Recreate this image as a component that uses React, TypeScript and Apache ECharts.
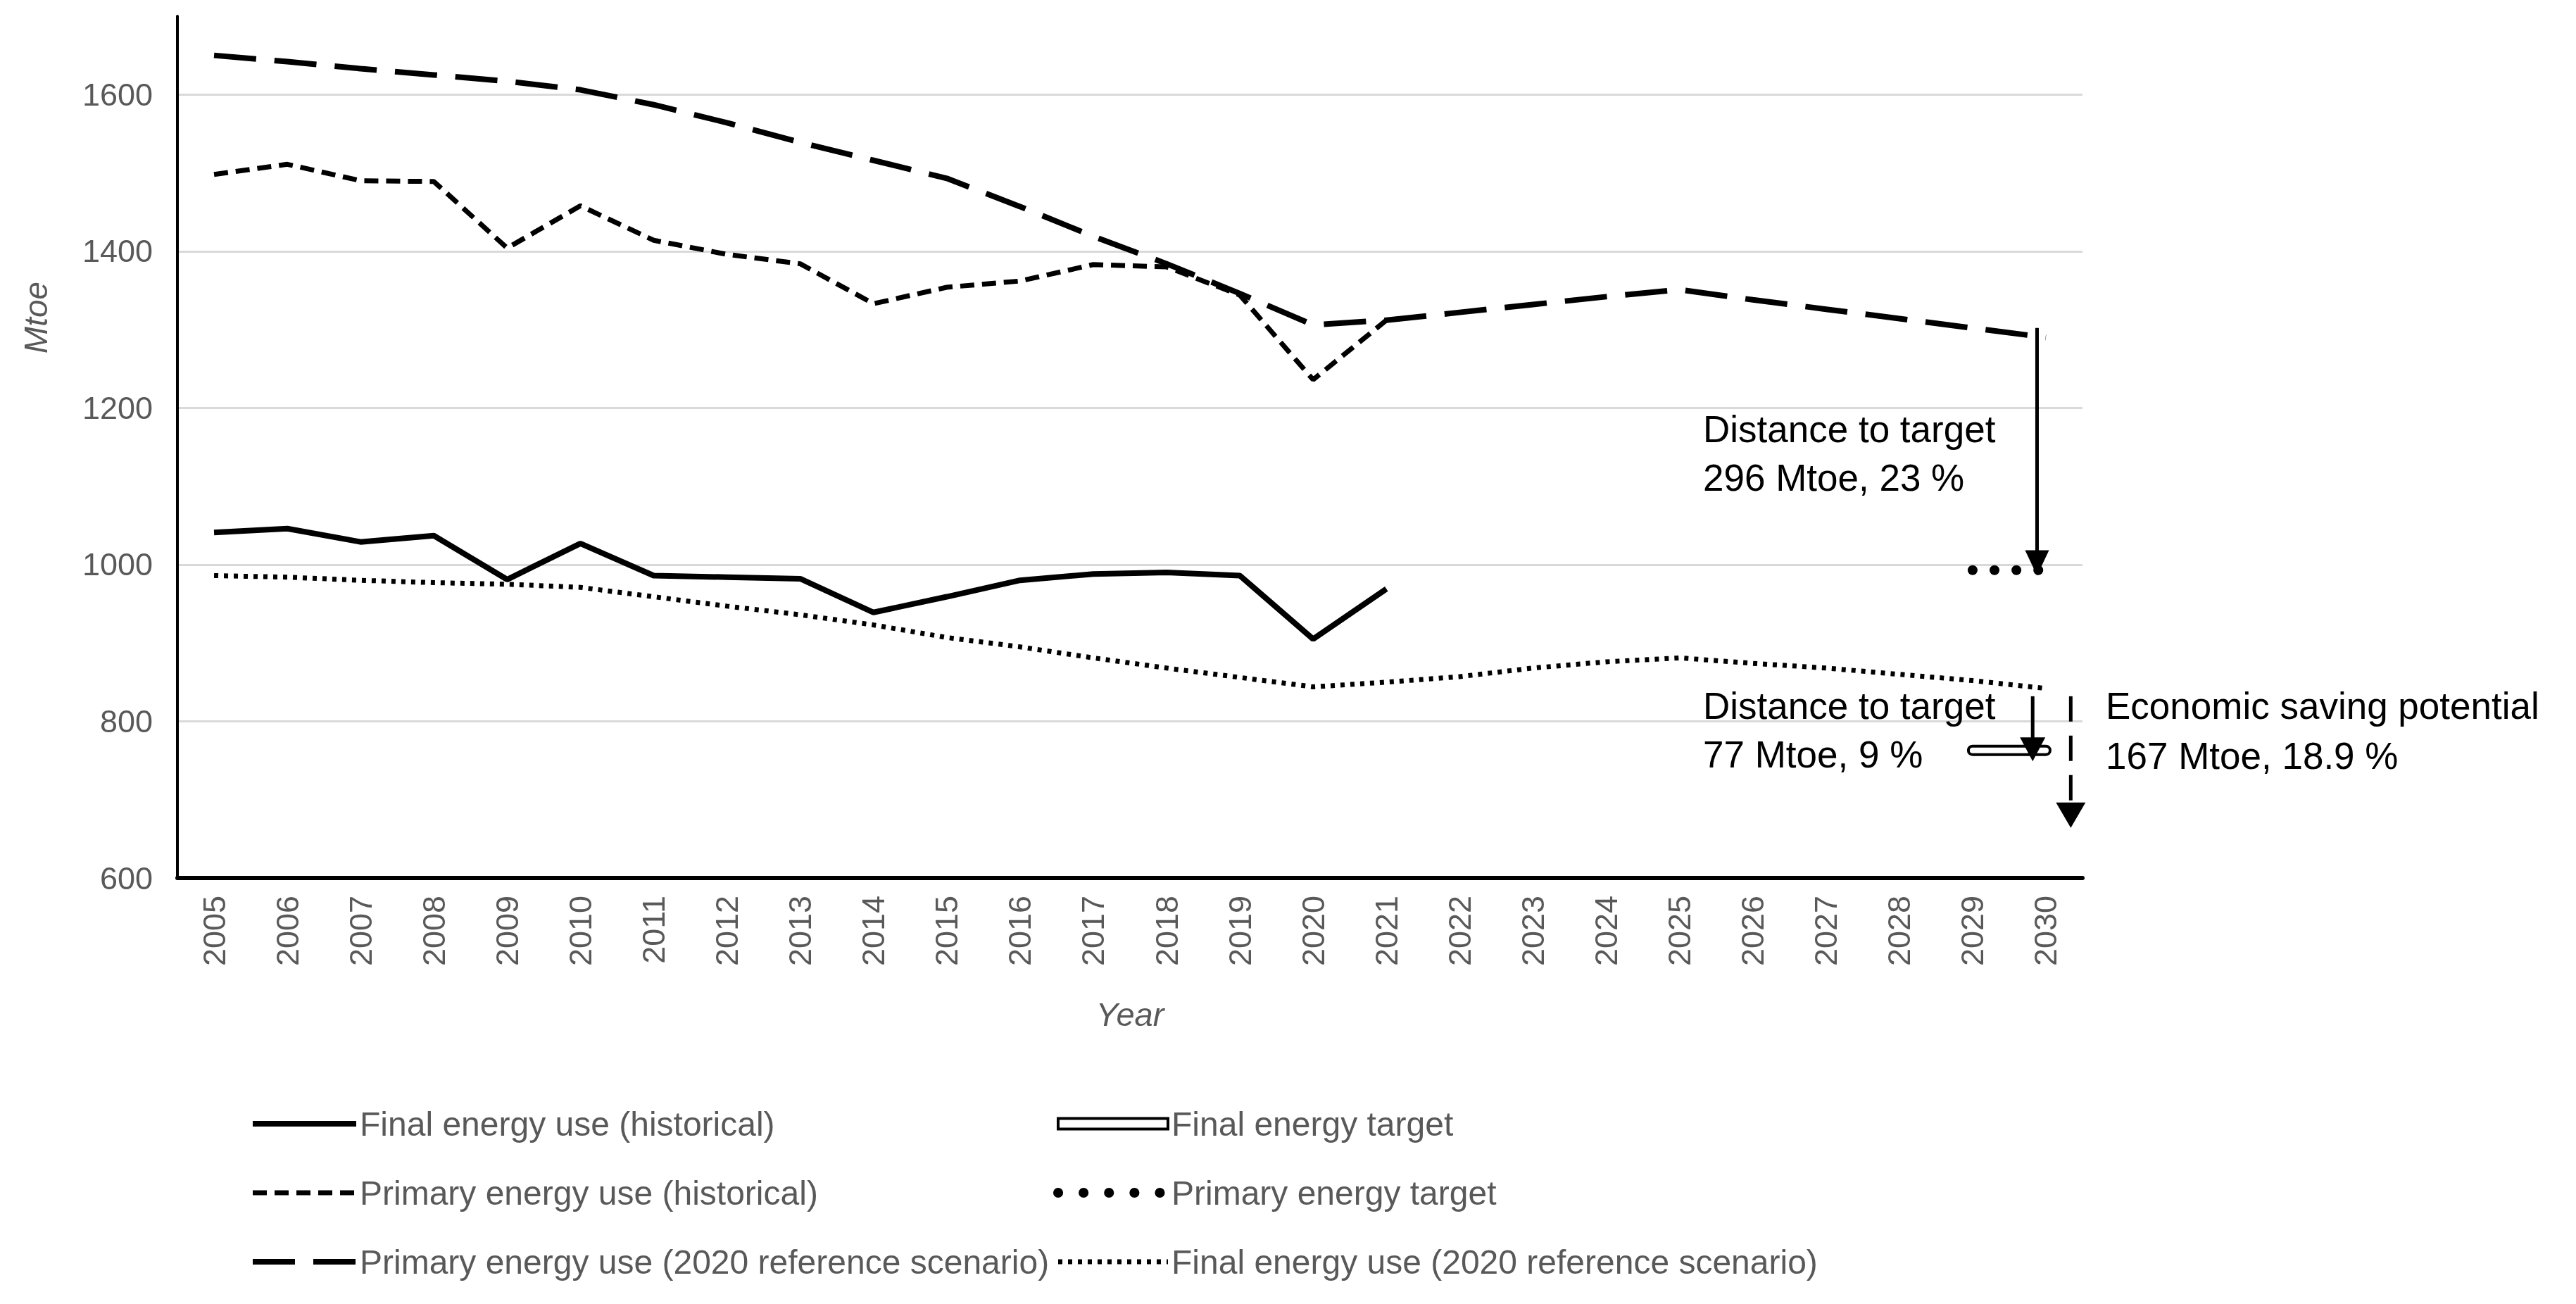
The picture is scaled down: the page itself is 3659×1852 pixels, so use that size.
import React, { useEffect, useRef } from 'react';
import * as echarts from 'echarts';

const years = ['2005','2006','2007','2008','2009','2010','2011','2012','2013','2014','2015','2016','2017','2018','2019','2020','2021','2022','2023','2024','2025','2026','2027','2028','2029','2030'];

const finalHistorical = [1041, 1046, 1029, 1037, 981, 1027, 986, 984, 982, 939, 959, 980, 988, 990, 986, 905, 969, null, null, null, null, null, null, null, null, null];
const primaryHistorical = [1498, 1511, 1490, 1489, 1404, 1458, 1414, 1396, 1384, 1333, 1354, 1362, 1383, 1380, 1344, 1236, 1312, null, null, null, null, null, null, null, null, null];
const primaryReference = [1650, 1642, 1633, 1625, 1617, 1606, 1587, 1564, 1539, 1516, 1493, 1457, 1419, 1384, 1346, 1306, 1312, 1322, 1332, 1342, 1351, 1338, 1326, 1314, 1302, 1290];
const finalReference = [986, 984, 980, 977, 975, 971, 959, 947, 936, 923, 907, 895, 881, 868, 856, 844, 850, 857, 868, 876, 881, 874, 868, 860, 852, 842];
const primaryTarget = [null, null, null, null, null, null, null, null, null, null, null, null, null, null, null, null, null, null, null, null, null, null, null, null, 993, 993];
const finalTarget = [null, null, null, null, null, null, null, null, null, null, null, null, null, null, null, null, null, null, null, null, null, null, null, null, 763, 763];

const yTicks = { min: 600, max: 1700, interval: 200 };

// annotation arrows (values in Mtoe, drawn at the 2030 category)
const primaryGapArrow = { from: 1302, to: 986, offset: -0.12 };
const finalGapArrow = { from: 832, to: 749, offset: -0.18 };
const savingArrow = { from: 832, to: 664, offset: 0.34 };

const annotationTexts = [
  { text: 'Distance to target', x: 2419, y: 609 },
  { text: '296 Mtoe, 23 %', x: 2419, y: 678 },
  { text: 'Distance to target', x: 2419, y: 1002 },
  { text: '77 Mtoe, 9 %', x: 2419, y: 1071 },
  { text: 'Economic saving potential', x: 2991, y: 1002 },
  { text: '167 Mtoe, 18.9 %', x: 2991, y: 1073 },
];

const FONT = '"Liberation Sans", Arial, sans-serif';
const GRAY = '#595959';

export default function App() {
  const ref = useRef<HTMLDivElement>(null);
  useEffect(() => {
    const chart = echarts.init(ref.current!, null, { renderer: 'svg' });
    const lineBase = { type: 'line', symbol: 'none', showSymbol: false, smooth: false, connectNulls: false, silent: true };
    const legendCommon = {
      orient: 'vertical',
      top: 1566,
      padding: 0,
      itemHeight: 15,
      itemGap: 38,
      selectedMode: false,
      textStyle: { color: GRAY, fontSize: 48, fontFamily: FONT, lineHeight: 60 },
      itemStyle: { opacity: 0 },
      lineStyle: { width: 'inherit' },
    };
    chart.setOption({
      animation: false,
      color: ['#000'],
      textStyle: { fontFamily: FONT },
      grid: { left: 252, right: 701, top: 23, bottom: 605, containLabel: false },
      xAxis: {
        type: 'category',
        data: years,
        boundaryGap: true,
        axisLine: { show: true, lineStyle: { color: '#000', width: 6 } },
        axisTick: { show: false },
        axisLabel: { rotate: 90, margin: 25, color: GRAY, fontSize: 45, fontFamily: FONT, interval: 0 },
        splitLine: { show: false },
      },
      yAxis: {
        type: 'value',
        min: yTicks.min,
        max: yTicks.max,
        interval: yTicks.interval,
        axisLine: { show: true, lineStyle: { color: '#000', width: 4 } },
        axisTick: { show: false },
        axisLabel: { margin: 35, color: GRAY, fontSize: 45, fontFamily: FONT, showMaxLabel: false, formatter: (v: number) => String(v) },
        splitLine: { show: true, showMaxLine: false, showMinLine: false, lineStyle: { color: '#d9d9d9', width: 3 } },
      },
      legend: [
        { ...legendCommon, left: 355, itemWidth: 147, data: ['Final energy use (historical)', 'Primary energy use (historical)', 'Primary energy use (2020 reference scenario)'] },
        {
          ...legendCommon,
          left: 1496,
          itemWidth: 156,
          data: [
            { name: 'Final energy target', icon: 'rect', itemStyle: { opacity: 1, color: '#fff', borderColor: '#000', borderWidth: 4 } },
            { name: 'Primary energy target', lineStyle: { width: 'inherit', type: [0.1, 36], cap: 'round' } },
            'Final energy use (2020 reference scenario)',
          ],
        },
      ],
      series: [
        { ...lineBase, name: 'Primary energy use (2020 reference scenario)', data: primaryReference, itemStyle: { color: '#000' }, lineStyle: { color: '#000', width: 8, type: [60, 26], cap: 'butt' } },
        { ...lineBase, name: 'Primary energy use (historical)', data: primaryHistorical, itemStyle: { color: '#000' }, lineStyle: { color: '#000', width: 7, type: [20, 11], cap: 'butt' } },
        { ...lineBase, name: 'Final energy use (2020 reference scenario)', data: finalReference, itemStyle: { color: '#000' }, lineStyle: { color: '#000', width: 7, type: [6, 8], cap: 'butt' } },
        { ...lineBase, name: 'Final energy use (historical)', data: finalHistorical, itemStyle: { color: '#000' }, lineStyle: { color: '#000', width: 8, type: 'solid' } },
        { ...lineBase, name: 'Primary energy target', data: primaryTarget, itemStyle: { color: '#000' }, lineStyle: { color: '#000', width: 14, type: [0.1, 31], cap: 'round' } },
        { ...lineBase, name: 'Final energy target', data: finalTarget, itemStyle: { color: '#000' }, lineStyle: { color: '#000', width: 16, type: 'solid', cap: 'round' } },
        { ...lineBase, name: 'Final energy target inner', data: finalTarget, itemStyle: { color: '#fff' }, lineStyle: { color: '#fff', width: 8, type: 'solid', cap: 'round' } },
      ],
    });

    const p = (i: number, v: number) => chart.convertToPixel({ xAxisIndex: 0, yAxisIndex: 0 }, [i, v]) as number[];
    const last = years.length - 1;
    const band = p(last, 1000)[0] - p(last - 1, 1000)[0];
    const arrow = (a: { from: number; to: number; offset: number }, lw: number, headW: number, headH: number, dash?: number[]) => {
      const x = p(last, a.from)[0] + a.offset * band;
      const y1 = p(last, a.from)[1];
      const y2 = p(last, a.to)[1];
      return [
        { type: 'line', z: 100, shape: { x1: x, y1, x2: x, y2: y2 - headH + 2 }, style: { stroke: '#000', lineWidth: lw, lineDash: dash || null } },
        { type: 'polygon', z: 100, shape: { points: [[x - headW / 2, y2 - headH], [x + headW / 2, y2 - headH], [x, y2]] }, style: { fill: '#000' } },
      ];
    };
    const graphic: any[] = [
      ...arrow(primaryGapArrow, 5, 34, 36),
      ...arrow(finalGapArrow, 5, 36, 34),
      ...arrow(savingArrow, 5, 42, 36, [36, 20]),
      ...annotationTexts.map((t) => ({
        type: 'text', z: 100, x: t.x, y: t.y,
        style: { text: t.text, fontSize: 53, fontFamily: FONT, fill: '#000', textAlign: 'left', textVerticalAlign: 'middle' },
      })),
      { type: 'text', z: 100, x: 51, y: 451, rotation: Math.PI / 2, style: { text: 'Mtoe', fontSize: 46, fontStyle: 'italic', fontFamily: FONT, fill: GRAY, textAlign: 'center', textVerticalAlign: 'middle' } },
      { type: 'text', z: 100, x: 1605, y: 1440, style: { text: 'Year', fontSize: 47, fontStyle: 'italic', fontFamily: FONT, fill: GRAY, textAlign: 'center', textVerticalAlign: 'middle' } },
    ];
    chart.setOption({ graphic });
    return () => chart.dispose();
  }, []);
  return <div ref={ref} style={{ position: 'fixed', left: 0, top: 0, width: 3659, height: 1852 }} />;
}
